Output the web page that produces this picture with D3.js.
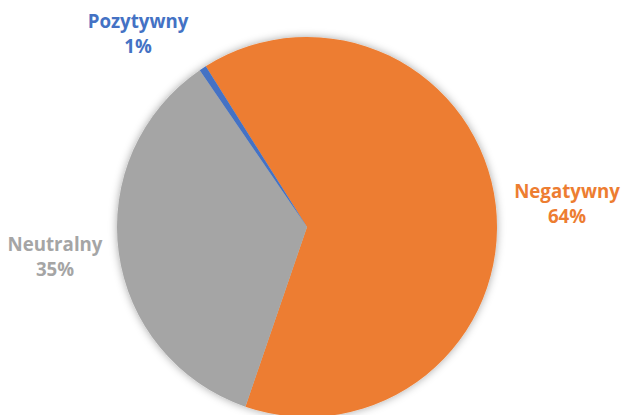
<!DOCTYPE html>
<html>
<head>
<meta charset="utf-8">
<script src="https://cdn.jsdelivr.net/npm/d3@7"></script>
<style>
  html, body { margin: 0; padding: 0; background: #ffffff; }
  svg { display: block; }
</style>
</head>
<body>
<svg id="chart" width="622" height="415"></svg>
<script>
const categories = ["Negatywny", "Neutralny", "Pozytywny"];
const values = [64.2, 35.2, 0.6];
const percentLabels = ["64%", "35%", "1%"];
const colors = ["#ED7D31", "#A5A5A5", "#4472C4"];

const width = 622, height = 415;
const cx = 307, cy = 227, radius = 190;
const startDeg = -32.2;

const svg = d3.select("#chart");

const defs = svg.append("defs");
const filter = defs.append("filter").attr("id", "shadow")
  .attr("x", "-20%").attr("y", "-20%").attr("width", "140%").attr("height", "140%");
filter.append("feDropShadow")
  .attr("dx", 0).attr("dy", 0).attr("stdDeviation", 4)
  .attr("flood-color", "#000").attr("flood-opacity", 0.35);

const data = categories.map((c, i) => ({ cat: c, value: values[i], label: percentLabels[i], color: colors[i] }));

const pie = d3.pie().value(d => d.value).sort(null)
  .startAngle(startDeg * Math.PI / 180)
  .endAngle(startDeg * Math.PI / 180 + 2 * Math.PI);
const arc = d3.arc().innerRadius(0).outerRadius(radius);

const g = svg.append("g").attr("transform", `translate(${cx},${cy})`);
const slices = g.append("g").attr("filter", "url(#shadow)");
slices.selectAll("path").data(pie(data)).join("path")
  .attr("d", arc)
  .attr("fill", d => d.data.color);

// label anchor positions (absolute coordinates of text centers)
const labelPos = {
  "Negatywny": [567, 198],
  "Neutralny": [55, 251],
  "Pozytywny": [138, 28]
};
const lineGap = 25;

const labels = svg.append("g")
  .attr("font-family", "'Open Sans', 'Noto Sans', sans-serif")
  .attr("font-weight", "bold")
  .attr("font-size", "18.7px")
  .attr("text-anchor", "middle");

data.forEach(d => {
  const [x, y] = labelPos[d.cat];
  const t = labels.append("text").attr("fill", d.color);
  t.append("tspan").attr("x", x).attr("y", y).text(d.cat);
  t.append("tspan").attr("x", x).attr("y", y + lineGap).text(d.label);
});
</script>
</body>
</html>
